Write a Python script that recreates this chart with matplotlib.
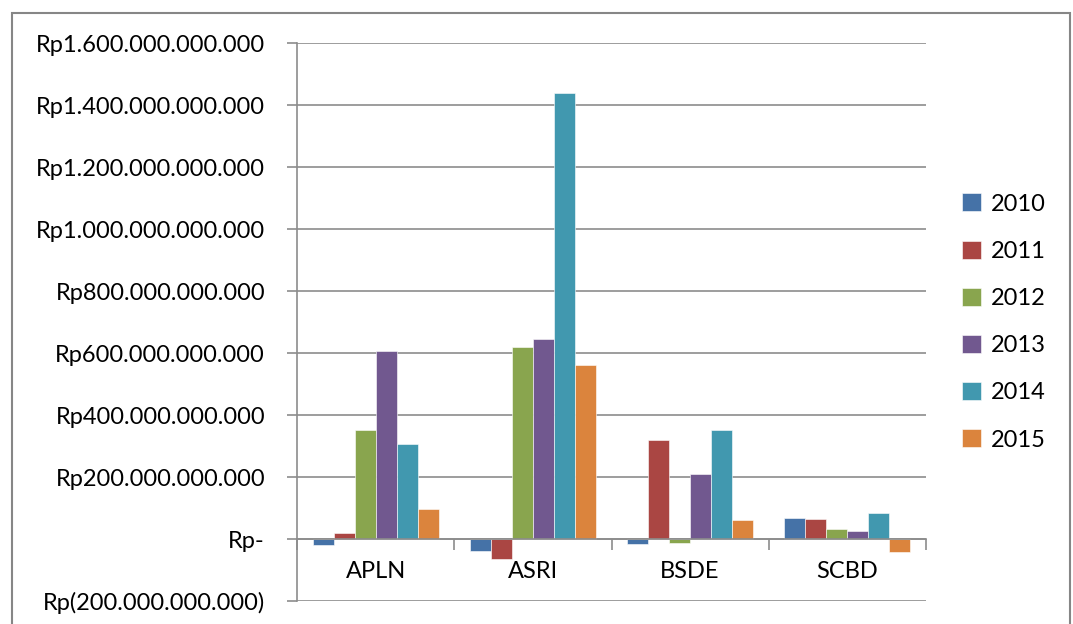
import numpy as np
import matplotlib.pyplot as plt
from matplotlib.ticker import FuncFormatter, FixedLocator
from matplotlib.patches import Rectangle

# data (in billions of rupiah)
emiten = ['APLN', 'ASRI', 'BSDE', 'SCBD']
tahun = ['2010', '2011', '2012', '2013', '2014', '2015']
v2010 = [-20, -39, -16, 67]
v2011 = [20, -65, 319, 63]
v2012 = [352, 619, -12, 31]
v2013 = [606, 645, 210, 25]
v2014 = [306, 1439, 352, 85]
v2015 = [97, 561, 61, -41]
nilai = [v2010, v2011, v2012, v2013, v2014, v2015]

warna = ['#4572A7', '#AA4643', '#89A54E', '#71588F', '#4198AF', '#DB843D']

plt.rcParams['font.family'] = ['Lato', 'DejaVu Sans']

fig = plt.figure(figsize=(10.73, 6.24), dpi=100)
ax = fig.add_axes([297/1073, 1 - 601/624, (926-297)/1073, (601-43)/624])

x = np.arange(len(emiten))
lebar = 1 / 7.5
for i, seri in enumerate(nilai):
    ax.bar(x - 0.5 + 0.75*lebar + lebar*(i + 0.5), seri, width=lebar, color=warna[i],
           label=tahun[i], zorder=3, edgecolor='white', linewidth=0.4)

ax.set_xlim(-0.5, len(emiten) - 0.5)
ax.set_ylim(-200, 1600)
ax.set_yticks(np.arange(-200, 1601, 200))


def rupiah(v, pos):
    if v == 0:
        return 'Rp-'
    s = f'{abs(int(round(v * 1e9))):,}'.replace(',', '.')
    if v < 0:
        return f'Rp({s})'
    return f'Rp{s}'


ax.yaxis.set_major_formatter(FuncFormatter(rupiah))
ax.grid(axis='y', color='#8c8c8c', linewidth=1.2, zorder=0)

ax.spines['top'].set_visible(False)
ax.spines['right'].set_visible(False)
ax.spines['left'].set_color('#8c8c8c')
ax.spines['left'].set_linewidth(1.2)
ax.spines['bottom'].set_position(('data', 0))
ax.spines['bottom'].set_color('#8c8c8c')
ax.spines['bottom'].set_linewidth(1.2)
ax.spines['bottom'].set_zorder(4)

ax.set_xticks(x)
ax.set_xticklabels(emiten)
ax.xaxis.set_minor_locator(FixedLocator(np.arange(-0.5, len(emiten), 1.0)))
ax.tick_params(axis='x', which='major', length=0, pad=16, labelsize=17)
ax.tick_params(axis='x', which='minor', length=8, color='#8c8c8c', width=1.2, direction='out')
ax.tick_params(axis='y', length=7, color='#8c8c8c', width=1.2, pad=16, labelsize=17)

fig.legend(loc='center left', bbox_to_anchor=(941/1073, 1 - 322/624), frameon=False,
           fontsize=17, handlelength=0.8, handleheight=0.8, labelspacing=1.1,
           handletextpad=0.4)

fig.patches.append(Rectangle((12/1073, -0.05), (1070-12)/1073, 1.05 - 13/624,
                             transform=fig.transFigure, fill=False,
                             edgecolor='#868686', linewidth=1.5))

plt.savefig('out.png', dpi=100)
